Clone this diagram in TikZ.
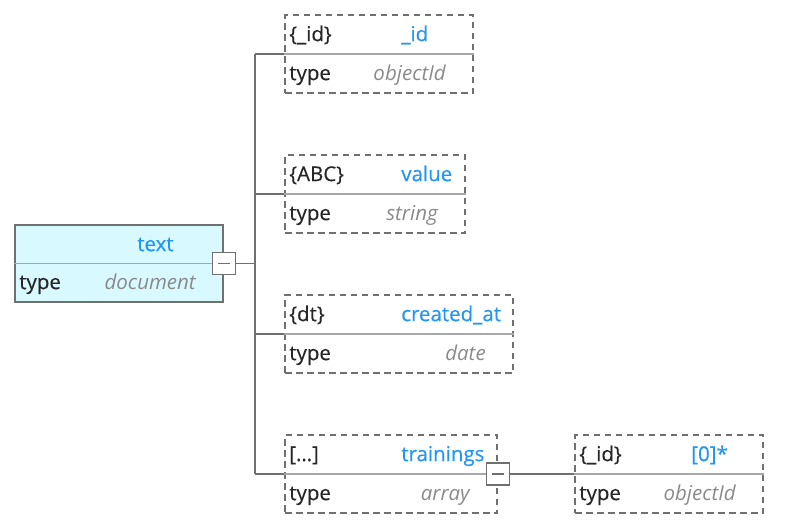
\documentclass[tikz,border=0pt]{standalone}
\usepackage{fontspec}
\setmainfont{Open Sans}
\usetikzlibrary{calc}
\definecolor{boxgray}{HTML}{707070}
\definecolor{rulegray}{HTML}{A8A8A8}
\definecolor{namecol}{HTML}{2196F3}
\definecolor{typecol}{HTML}{8A8A8A}
\definecolor{labelcol}{HTML}{262626}
\definecolor{rootfill}{HTML}{D7F9FF}
\newcommand{\fsize}{\fontsize{20.5}{24}\selectfont}

\begin{document}
\begin{tikzpicture}[x=1pt,y=-1pt,
  fieldbox/.style={draw=boxgray,line width=1.8pt,dash pattern=on 6.5pt off 4.5pt,minimum height=78pt,inner sep=0pt},
  rootbox/.style={draw=boxgray,fill=rootfill,line width=1.8pt,minimum height=77pt,inner sep=0pt},
  seprule/.style={rulegray,line width=1.8pt},
  link/.style={boxgray,line width=1.8pt},
  minusbox/.style={draw=boxgray,fill=white,line width=1.8pt,minimum width=23pt,minimum height=22pt,inner sep=0pt,
    path picture={\draw[boxgray,line width=1.8pt] ($(path picture bounding box.center)+(-6,0)$) -- ++(12,0);}},
  lbl/.style={anchor=base west,text=labelcol,inner sep=0pt,font=\fsize\addfontfeature{FakeBold=0.4}},
  fname/.style={anchor=base west,text=namecol,inner sep=0pt,font=\fsize\addfontfeature{FakeBold=0.4}},
  ftype/.style={anchor=base east,text=typecol,inner sep=0pt,font=\fsize\itshape}]
  \useasboundingbox (0,0) rectangle (786,530);

  % root document
  \node[rootbox,minimum width=208pt] (text) at (119,263.5) {};
  \draw[seprule] (text.west) -- (text.east);
  \node[lbl] (textkey) at ($(text.north west)+(5,65)$) {type};
  \node[fname] (textname) at ($(text.north west)+(123,27)$) {text};
  \node[ftype] (texttype) at ($(text.north east)+(-28,65)$) {document};

  % fields
  \node[fieldbox,minimum width=188pt] (id) at (379,54) {};
  \node[fieldbox,minimum width=180pt] (value) at (375,194) {};
  \node[fieldbox,minimum width=228pt] (created) at (399,334) {};
  \node[fieldbox,minimum width=212pt] (trainings) at (391,474) {};
  \node[fieldbox,minimum width=188pt] (item) at (669,474) {};

  \foreach \n/\key/\name/\type in {id/{\{\_id\}}/\_id/objectId,
      value/{\{ABC\}}/value/string,
      created/{\{dt\}}/created\_at/date,
      trainings/{[…]}/trainings/array,
      item/{\{\_id\}}/{[0]*}/objectId}{
    \draw[seprule] (\n.west) -- (\n.east);
    \node[lbl] (\n key) at ($(\n.north west)+(5,27)$) {\key};
    \node[fname] (\n name) at ($(\n.north west)+(117,27)$) {\name};
    \node[lbl] (\n typekey) at ($(\n.north west)+(5,66)$) {type};
    \node[ftype] (\n type) at ($(\n.north east)+(-28,66)$) {\type};
  }

  % connectors
  \node[minusbox] (textminus) at (text.east) {};
  \draw[link] (textminus.east) -- ++(19,0) coordinate (fork);
  \draw[link] (fork |- id.west) -- (fork |- trainings.west);
  \foreach \n in {id,value,created,trainings}
    \draw[link] (fork |- \n.west) -- (\n.west);
  \node[minusbox] (trainingsminus) at (trainings.east) {};
  \draw[link] (trainingsminus.east) -- (item.west);
\end{tikzpicture}
\end{document}
